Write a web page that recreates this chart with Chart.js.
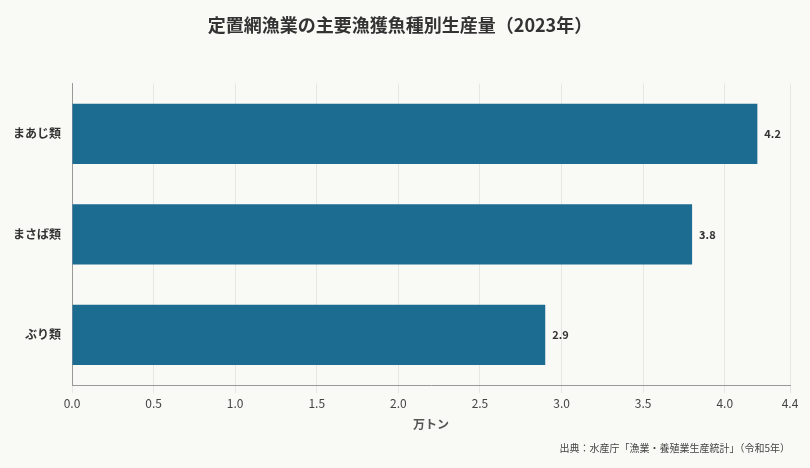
<!DOCTYPE html>
<html><head><meta charset="utf-8">
<script src="https://cdn.jsdelivr.net/npm/chart.js@4"></script>
<style>html,body{margin:0;background:#f9f9f5;}#w{width:810px;height:468px;position:relative}</style>
</head><body><div id="w"><canvas id="c" width="810" height="468"></canvas></div>
<script>
const categories = ["まあじ類","まさば類","ぶり類"];
const values = [4.2, 3.8, 2.9];
const FONT = '"Noto Sans CJK JP", "Noto Sans", sans-serif';
const labelPlugin = {
  id:'lbl',
  afterDatasetsDraw(chart){
    const ctx=chart.ctx; const meta=chart.getDatasetMeta(0);
    ctx.save(); ctx.font='bold 11px '+FONT; ctx.fillStyle='#333'; ctx.textBaseline='middle';
    meta.data.forEach((b,i)=>{ctx.fillText(values[i].toFixed(1), b.x+7, b.y);});
    ctx.restore();
  }
};
const bgPlugin={id:'bg',beforeDraw(c){const x=c.ctx;x.save();x.fillStyle='#f9f9f5';x.fillRect(0,0,c.width,c.height);x.restore();}};
new Chart(document.getElementById('c'),{
  type:'bar',
  data:{labels:categories,datasets:[{data:values,backgroundColor:'#1c6b91',barPercentage:0.6,categoryPercentage:1}]},
  options:{
    indexAxis:'y',responsive:false,animation:false,
    layout:{padding:{left:10,right:20,top:0,bottom:0}},
    plugins:{legend:{display:false},tooltip:{enabled:false},
      title:{display:true,text:'定置網漁業の主要漁獲魚種別生産量（2023年）',font:{family:FONT,size:18,weight:'bold'},color:'#333',padding:{top:14,bottom:48}},
      subtitle:{display:true,position:'bottom',align:'end',text:'出典：水産庁「漁業・養殖業生産統計」（令和5年）',font:{family:FONT,size:10},color:'#444',padding:{top:6,bottom:14}}
    },
    scales:{
      x:{min:0,max:4.4,ticks:{stepSize:0.5,callback:v=>v.toFixed(1),font:{family:FONT,size:12},color:'#444'},
        grid:{color:'#e6e6e2'},border:{color:'#999'},
        title:{display:true,text:'万トン',font:{family:FONT,size:12,weight:'bold'},color:'#555'}},
      y:{ticks:{font:{family:FONT,size:12,weight:'bold'},color:'#333'},grid:{display:false},border:{color:'#999'}}
    }
  },
  plugins:[bgPlugin,labelPlugin]
});
</script></body></html>
